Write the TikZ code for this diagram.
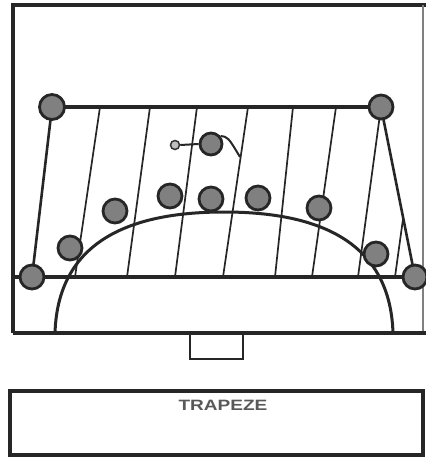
\documentclass[tikz,border=0pt]{standalone}
\usepackage{fontspec}
\setmainfont{Liberation Sans}
\usepackage{graphicx}
\begin{document}
\begin{tikzpicture}[x=1pt,y=-1pt,
  ball/.style={circle, draw=black!85, line width=2.8pt, fill=black!50, inner sep=0pt, minimum size=24pt},
  smallball/.style={circle, draw=black!80, line width=1.5pt, fill=black!25, inner sep=0pt, minimum size=9pt},
  frameline/.style={line width=4.5pt, black!85},
  bar/.style={line width=3.6pt, black!85},
  hatch/.style={line width=1.7pt, black!85},
  archline/.style={line width=3pt, black!85}]
\useasboundingbox (0,0) rectangle (426,459);
% outer frame
\draw[frameline] (13,333) -- (13,5) -- (426,5);
\draw[line width=1.5pt, black!50] (423,5) -- (423,333);
\draw[line width=3.5pt, black!85] (13,333) -- (426,333);
% small box under frame
\draw[line width=2.6pt, black!85] (190,333) -- (190,359) -- (243,359) -- (243,333);
% trapeze nodes
\coordinate (t1) at (100,107); \coordinate (b1) at (75,277);
\coordinate (t2) at (150,107); \coordinate (b2) at (127,277);
\coordinate (t3) at (197,107); \coordinate (b3) at (175,277);
\coordinate (t4) at (248,107); \coordinate (b4) at (223,277);
\coordinate (t5) at (293,107); \coordinate (b5) at (275,277);
\coordinate (t6) at (336,107); \coordinate (b6) at (312,277);
\coordinate (b7) at (358,277);
\coordinate (t8) at (403,219); \coordinate (b8) at (395,277);
\coordinate (tail) at (240,157);
\coordinate (barleft) at (13,277);
% hatch lines
\foreach \i in {1,...,6} \draw[hatch] (t\i) -- (b\i);
\draw[hatch] (t8) -- (b8);
% arch
\coordinate (aL) at (55,333); \coordinate (aT) at (224,212); \coordinate (aR) at (393,333);
\draw[archline] (aL) .. controls (58,235) and (140,212) .. (aT)
  .. controls (308,212) and (390,235) .. (aR);
% corner balls positions
\path (52,107) coordinate (A) (381,107) coordinate (B)
      (32,277) coordinate (C) (415,277) coordinate (D);
\draw[hatch] (B) -- (b7);
\draw[bar] (A) -- (B);
\draw[bar] (barleft) -- (D);
\draw[line width=2.6pt, black!85] (A) -- (C);
\draw[line width=2.6pt, black!85] (B) -- (D);
\node[ball, minimum size=25pt] (nA) at (A) {};
\node[ball] (nB) at (B) {};
\node[ball] (nC) at (C) {};
\node[ball] (nD) at (D) {};
% balls on the arch
\node[ball] (p1) at (70,248) {};
\node[ball] (p2) at (115,211) {};
\node[ball] (p3) at (170,196) {};
\node[ball] (p4) at (211,199) {};
\node[ball] (p5) at (258,198) {};
\node[ball] (p6) at (319,208) {};
\node[ball] (p7) at (376,254) {};
% figure on trapeze
\node[smallball] (f) at (175,145) {};
\node[ball, minimum size=22pt] (g) at (211,144) {};
\draw[line width=2pt, black!85] (f.east) -- (g.west);
\draw[line width=2pt, black!85] (g.40) .. controls (228,137) .. (tail);
% bottom box
\draw[line width=3.5pt, black!85] (10,391) rectangle (423,455);
\node[text=black!65, inner sep=0pt] (lbl) at (223,405) {\scalebox{1.27}[1]{\fontsize{15}{17}\selectfont\bfseries TRAPEZE}};
\end{tikzpicture}
\end{document}
